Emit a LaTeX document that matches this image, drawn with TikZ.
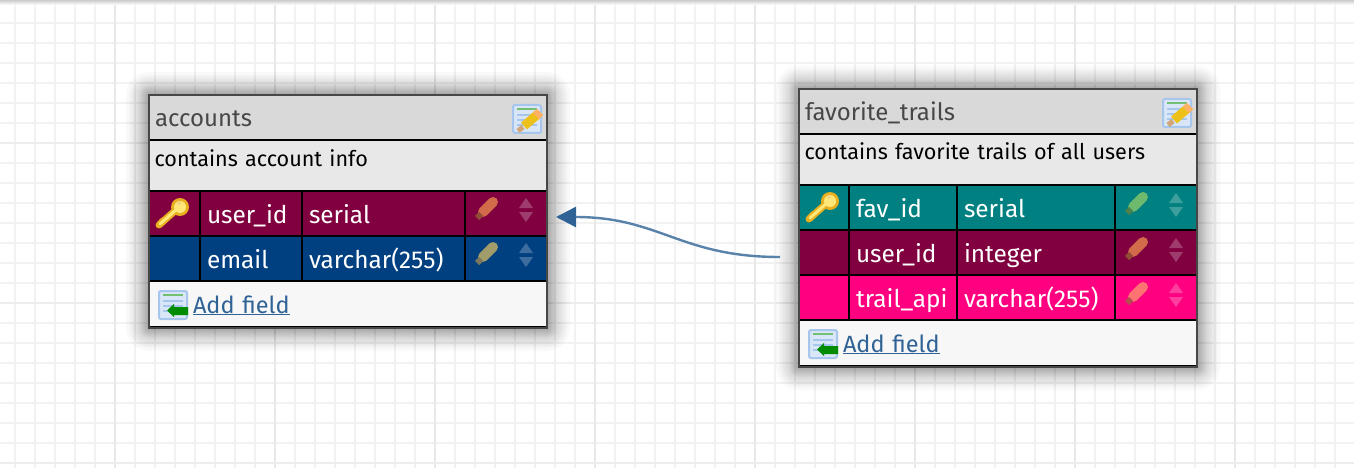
\documentclass[tikz,border=0pt]{standalone}
\usepackage{fontspec}
\setmainfont{Fira Sans}
\usetikzlibrary{arrows.meta}
\definecolor{wine}{HTML}{800040}
\definecolor{navy}{HTML}{004080}
\definecolor{teal}{HTML}{008080}
\definecolor{hotpink}{HTML}{FF0080}
\definecolor{linkblue}{HTML}{2F6396}
\definecolor{keygold}{HTML}{E8B020}
\definecolor{keylight}{HTML}{FFE878}
\definecolor{sheetfill}{HTML}{D8E6F8}
\definecolor{sheetedge}{HTML}{A6C6EE}
\tikzset{
  cell/.style={draw=black, line width=2pt, anchor=north west, inner xsep=7pt, inner ysep=0pt, outer sep=0pt, text=white, font=\fontsize{24.4}{26}\selectfont, text height=32pt, text depth=13pt},
  titlecell/.style={cell, inner xsep=6pt, fill=black!15, text=black!72, font=\fontsize{24}{26}\selectfont},
  desccell/.style={cell, inner xsep=5.5pt, fill=black!9, text=black, font=\fontsize{21.6}{26}\selectfont, text height=26pt, text depth=25pt},
  footcell/.style={cell, inner xsep=6pt, fill=black!3, text=linkblue, font=\fontsize{23.5}{26}\selectfont, text height=32pt, text depth=14pt},
  frame/.style={draw=black!72, line width=2.5pt, anchor=north west, inner sep=0pt, outer sep=0pt},
  link/.style={draw=linkblue!80, line width=2.4pt, -{Triangle[length=20pt,width=20pt,color=linkblue]}},
  pics/keyicon/.style={code={
    \draw[line width=7pt, draw=keygold, line cap=round] (-13,12) -- (5,-4);
    \draw[line width=4pt, draw=keygold] (-12,6) -- (-7,11);
    \fill[keygold] (8,-6) circle (9);
    \draw[line width=3pt, draw=keylight, line cap=round] (-12,11) -- (5,-4);
    \fill[keylight] (8,-6) circle (6);
    \fill[keygold!55!white] (7,-10) circle (2);
  }},
  pics/penicon/.style={code={
    \draw[line width=10pt, draw=#1, line cap=round] (-4,4) -- (6,-6);
    \draw[line width=6pt, draw=#1!70!black] (-10,10) -- (-6,6);
  }},
  pics/updown/.style={code={
    \fill[white, opacity=.24] (-7,-1) -- (0,-11) -- (7,-1) -- cycle;
    \fill[white, opacity=.24] (-7,3) -- (0,13) -- (7,3) -- cycle;
  }},
  pics/sheet/.style={code={
    \draw[fill=sheetfill, draw=sheetedge, line width=2pt, rounded corners=2pt] (-14,-14) rectangle (14,14);
    \draw[line width=2pt, green!55!black!55] (-10,-10) -- (10,-10);
    \foreach \ypos in {-4,1,6}
      \draw[line width=2.5pt, sheetedge] (-10,\ypos) -- (10,\ypos);
  }},
  pics/editicon/.style={code={
    \pic {sheet};
    \draw[line width=9pt, draw=keygold!80!yellow] (-3,7) -- (11,-5);
    \draw[line width=9pt, draw=orange!60] (9,-3) -- (13,-7);
    \draw[line width=5pt, draw=brown!70] (-9,12) -- (-4,8);
  }},
  pics/addicon/.style={code={
    \pic {sheet};
    \fill[green!55!black] (-6,5.5) -- (1,-1) -- (1,2) -- (15,2) -- (15,10) -- (1,10) -- (1,12) -- cycle;
  }}
}
\begin{document}
\begin{tikzpicture}[x=1pt, y=-1pt]
    \clip (0,0) rectangle (1354,468);
    % grid
    \fill[white] (0,0) rectangle (1354,468);
    \foreach \xpos in {15,35,...,1355}
      \draw[line width=2pt, black!5] (\xpos,0) -- (\xpos,468);
    \foreach \ypos in {3,23,...,463}
      \draw[line width=2pt, black!5] (0,\ypos) -- (1354,\ypos);
    \foreach \xpos in {115,275,...,1235}
      \draw[line width=2.5pt, black!9] (\xpos,0) -- (\xpos,468);
    \foreach \ypos in {143,303,463}
      \draw[line width=2.5pt, black!7] (0,\ypos) -- (1354,\ypos);
    \shade[top color=black!20, bottom color=white] (0,0) rectangle (1354,5);

    % shadows
    \foreach \lft/\tp/\rgt/\bt in {149/95/547/328, 799/89/1197/367}
      \foreach \i in {1,2,3,4,5,6,7,8,9,10,12,14,16,18,20,23}
        \fill[black, opacity=.022, rounded corners=\i pt] ({\lft-\i},{\tp-\i}) rectangle ({\rgt+\i},{\bt+\i});

    % accounts
    \node[titlecell, text width=386pt] (accTitle) at (149,95) {accounts};
    \node[desccell, text width=387pt] (accDesc) at (149,140) {contains account info};
    \node[cell, fill=wine, text width=37pt] (accUserKey) at (149,191) {};
    \node[cell, fill=wine, text width=88pt] (accUserName) at (200,191) {user\_id};
    \node[cell, fill=wine, text width=149pt] (accUserType) at (302,191) {serial};
    \node[cell, fill=wine, text width=68pt] (accUserTools) at (465,191) {};
    \node[cell, fill=navy, text width=37pt] (accMailKey) at (149,236) {};
    \node[cell, fill=navy, text width=88pt] (accMailName) at (200,236) {email};
    \node[cell, fill=navy, text width=149pt] (accMailType) at (302,236) {varchar(255)};
    \node[cell, fill=navy, text width=68pt] (accMailTools) at (465,236) {};
    \node[footcell, text width=386pt] (accFoot) at (149,281) {\hspace*{38pt}\underline{Add field}};
    \node[frame, minimum width=398pt, minimum height=233pt] (accFrame) at (149,95) {};

    % favorite_trails
    \node[titlecell, text width=386pt] (favTitle) at (799,89) {favorite\_trails};
    \node[desccell, text width=387pt] (favDesc) at (799,134) {contains favorite trails of all users};
    \node[cell, fill=teal, text width=36pt] (favIdKey) at (799,185) {};
    \node[cell, fill=teal, text width=94pt] (favIdName) at (849,185) {fav\_id};
    \node[cell, fill=teal, text width=144pt] (favIdType) at (957,185) {serial};
    \node[cell, fill=teal, text width=68pt] (favIdTools) at (1115,185) {};
    \node[cell, fill=wine, text width=36pt] (favUserKey) at (799,230) {};
    \node[cell, fill=wine, text width=94pt] (favUserName) at (849,230) {user\_id};
    \node[cell, fill=wine, text width=144pt] (favUserType) at (957,230) {integer};
    \node[cell, fill=wine, text width=68pt] (favUserTools) at (1115,230) {};
    \node[cell, fill=hotpink, text width=36pt] (favApiKey) at (799,275) {};
    \node[cell, fill=hotpink, text width=94pt] (favApiName) at (849,275) {trail\_api};
    \node[cell, fill=hotpink, text width=144pt] (favApiType) at (957,275) {varchar(255)};
    \node[cell, fill=hotpink, text width=68pt] (favApiTools) at (1115,275) {};
    \node[footcell, text width=386pt] (favFoot) at (799,320) {\hspace*{38pt}\underline{Add field}};
    \node[frame, minimum width=398pt, minimum height=278pt] (favFrame) at (799,89) {};

    % icons
    \pic at (527,119) {editicon};
    \pic at (173,305) {addicon};
    \pic at (172,213) {keyicon};
    \pic at (487,208) {penicon={orange!55!wine!80!white}};
    \pic at (526,209) {updown};
    \pic at (487,253) {penicon={olive!40!gray!85!white}};
    \pic at (526,254) {updown};

    \pic at (1177,113) {editicon};
    \pic at (823,344) {addicon};
    \pic at (822,207) {keyicon};
    \pic at (1137,203) {penicon={green!35!gray!85!white}};
    \pic at (1176,204) {updown};
    \pic at (1137,248) {penicon={orange!55!wine!80!white}};
    \pic at (1176,249) {updown};
    \pic at (1137,293) {penicon={red!55!white}};
    \pic at (1176,294) {updown};

    % relation
    \draw[link] ([xshift=-19pt,yshift=-4.5pt]favUserKey.west) .. controls (680,257) and (660,217) .. ([xshift=9pt,yshift=-3.5pt]accUserTools.east);
\end{tikzpicture}
\end{document}
